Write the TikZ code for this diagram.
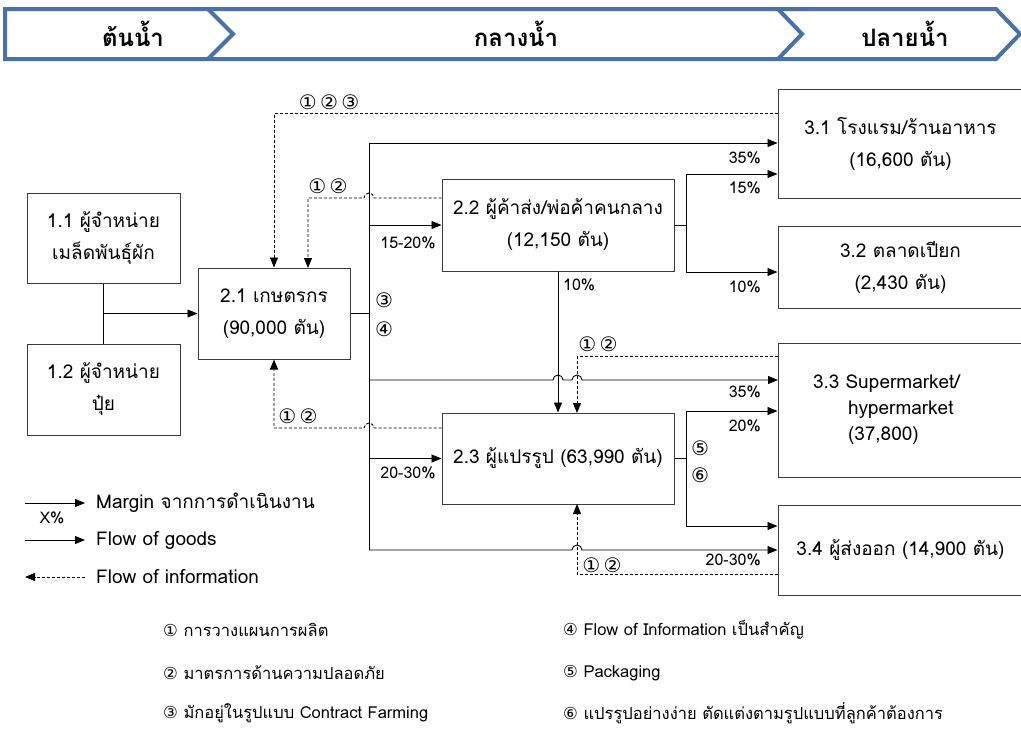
\documentclass[tikz,border=0pt]{standalone}
\usepackage{fontspec}
\setmainfont[Script=Thai]{Loma}
\newfontfamily\symfont{DejaVu Sans}
\usetikzlibrary{arrows.meta}
\definecolor{bannerblue}{HTML}{4A72A8}
\definecolor{boxline}{HTML}{3C3C3C}
\newcommand{\cn}[1]{{\symfont #1}}

\begin{document}
\begin{tikzpicture}[x=1pt,y=-1pt,
  box/.style={draw=boxline,line width=1pt,fill=white,inner sep=0pt,align=center,
    font=\fontsize{19}{32}\selectfont},
  link/.style={black,line width=0.9pt},
  goods/.style={link,-{Triangle[length=10pt,width=8pt]}},
  info/.style={black,line width=0.9pt,dash pattern=on 3pt off 2pt,-{Triangle[length=10pt,width=8pt]}},
  pct/.style={font=\fontsize{16}{16}\selectfont,inner sep=0pt},
  num/.style={font=\fontsize{20}{20}\symfont,inner sep=0pt},
  note/.style={anchor=west,inner sep=0pt,font=\fontsize{16.5}{16.5}\selectfont},
  legend/.style={note,font=\fontsize{19}{19}\selectfont},
  head/.style={font=\fontsize{24}{24}\selectfont\bfseries},
]
\useasboundingbox (0,0) rectangle (1021,729);
\clip (0,0) rectangle (1021,729);

% banner
\draw[bannerblue,line width=4pt,fill=white] (5,9) -- (996,9) -- (1020,34) -- (996,59) -- (5,59) -- cycle;
\draw[bannerblue,line width=4pt] (208,9) -- (233,34) -- (208,59);
\draw[bannerblue,line width=4pt] (778,9) -- (802,34) -- (778,59);
\node[head] (up) at (133,34) {ต้นน้ำ};
\node[head] (mid) at (516,34) {กลางน้ำ};
\node[head] (down) at (905,34) {ปลายน้ำ};

% boxes
\node[box,minimum width=153pt,minimum height=90pt] (b11) at (103.5,238) {1.1 ผู้จำหน่าย\\เมล็ดพันธุ์ผัก};
\node[box,minimum width=153pt,minimum height=91pt] (b12) at (103.5,389.5) {1.2 ผู้จำหน่าย\\ปุ๋ย};
\node[box,minimum width=152pt,minimum height=91pt] (b21) at (274,313.5) {2.1 เกษตรกร\\(90,000 ตัน)};
\node[box,minimum width=232pt,minimum height=92pt] (b22) at (558,225) {2.2 ผู้ค้าส่ง/พ่อค้าคนกลาง\\(12,150 ตัน)};
\node[box,minimum width=232pt,minimum height=91pt] (b23) at (558,458.5) {2.3 ผู้แปรรูป (63,990 ตัน)};
\node[box,minimum width=245pt,minimum height=109pt] (b31) at (900.5,143.5) {3.1 โรงแรม/ร้านอาหาร\\(16,600 ตัน)};
\node[box,minimum width=245pt,minimum height=82pt] (b32) at (900.5,267) {3.2 ตลาดเปียก\\(2,430 ตัน)};
\node[box,minimum width=245pt,minimum height=134pt,text width=175pt,align=left,
  font=\fontsize{19}{26}\selectfont] (b33) at (900.5,410)
  {3.3 Supermarket/\\\hspace*{35pt}hypermarket\\\hspace*{35pt}(37,800)\\[8pt]};
\node[box,minimum width=245pt,minimum height=90pt] (b34) at (900.5,550) {3.4 ผู้ส่งออก (14,900 ตัน)};

% suppliers to farmers
\draw[link] (b11.south) -- (b12.north);
\coordinate (s1) at (b11.south |- b21.west);
\draw[goods] (s1) -- (b21.west);

% farmers trunk
\coordinate (t1) at (369,143);
\coordinate (t4) at (369,550);
\draw[link] (b21.east) -- (b21.east -| t1);
\draw[goods] (t4) -- (t1) -- (t1 -| b31.west);
\draw[goods] (b22.west -| t1) -- (b22.west);
\draw[goods] (b23.west -| t1) -- (b23.west);
\draw[goods] (369,380) -- (553,380) arc[start angle=180,end angle=0,radius=5pt]
  -- (572,380) arc[start angle=180,end angle=0,radius=5pt] -- (778,380);
\draw[goods] (t4) -- (572,550) arc[start angle=180,end angle=0,radius=5pt] -- (b34.west);

% wholesalers
\coordinate (w1) at (686,174);
\coordinate (w2) at (686,272);
\draw[link] (b22.east) -- (b22.east -| w1);
\draw[link] (w1) -- (w2);
\draw[goods] (w1) -- (w1 -| b31.west);
\draw[goods] (w2) -- (w2 -| b32.west);
\draw[goods] (b22.south) -- (b23.north);

% processors
\coordinate (p1) at (686,411);
\coordinate (p2) at (686,526);
\draw[link] (b23.east) -- (b23.east -| p1);
\draw[link] (p1) -- (p2);
\draw[goods] (p1) -- (p1 -| b33.west);
\draw[goods] (p2) -- (p2 -| b34.west);

% information flows
\draw[info] (b31.west |- 0,113) -- (b21.north |- 0,113) -- (b21.north);
\draw[info] (b22.west |- 0,198) -- (374,198) arc[start angle=0,end angle=180,radius=5pt]
  -- (308,198) -- (308,268);
\draw[info] (b33.west |- 0,356) -- (577,356) -- (577,413);
\draw[info] (b23.west |- 0,428) -- (374,428) arc[start angle=0,end angle=180,radius=5pt]
  -- (b21.south |- 0,428) -- (b21.south);
\draw[info] (b34.west |- 0,574) -- (577,574) -- (577,504);

% labels
\node[num] (n123) at (329,102) {①\,②\,③};
\node[num] (n12a) at (328,186) {①\,②};
\node[num] (n12b) at (598,344) {①\,②};
\node[num] (n12c) at (298,416) {①\,②};
\node[num] (n12d) at (602,565) {①\,②};
\node[num] (n3) at (384,300) {③};
\node[num] (n4) at (384,329) {④};
\node[num] (n5) at (700,448) {⑤};
\node[num] (n6) at (700,475) {⑥};

\node[pct,anchor=east] (q1) at (761,158) {35\%};
\node[pct,anchor=east] (q2) at (761,188) {15\%};
\node[pct] (q3) at (408,243) {15-20\%};
\node[pct,anchor=west] (q4) at (563,285) {10\%};
\node[pct,anchor=east] (q5) at (761,287) {10\%};
\node[pct,anchor=east] (q6) at (761,392) {35\%};
\node[pct,anchor=east] (q7) at (761,426) {20\%};
\node[pct] (q8) at (408,473) {20-30\%};
\node[pct,anchor=east] (q9) at (761,560) {20-30\%};

% legend
\coordinate (l1) at (25,503);
\coordinate (l2) at (25,540);
\coordinate (l3) at (25,577);
\draw[goods,line width=0.8pt] (l1) -- ++(60,0);
\node[pct] (lx) at (52,518) {X\%};
\draw[goods] (l2) -- ++(60,0);
\draw[info] ([xshift=60pt]l3) -- (l3);
\node[legend] (t1l) at (96,503) {Margin จากการดำเนินงาน};
\node[legend] (t2l) at (96,540) {Flow of goods};
\node[legend] (t3l) at (96,577) {Flow of information};

% notes
\node[note] (f1) at (163,630) {\cn{①} การวางแผนการผลิต};
\node[note] (f2) at (163,673) {\cn{②} มาตรการด้านความปลอดภัย};
\node[note] (f3) at (163,713) {\cn{③} มักอยู่ในรูปแบบ Contract Farming};
\node[note] (f4) at (563,630) {\cn{④} Flow of Information เป็นสำคัญ};
\node[note] (f5) at (563,673) {\cn{⑤} Packaging};
\node[note] (f6) at (563,713) {\cn{⑥} แปรรูปอย่างง่าย ตัดแต่งตามรูปแบบที่ลูกค้าต้องการ};
\end{tikzpicture}
\end{document}
